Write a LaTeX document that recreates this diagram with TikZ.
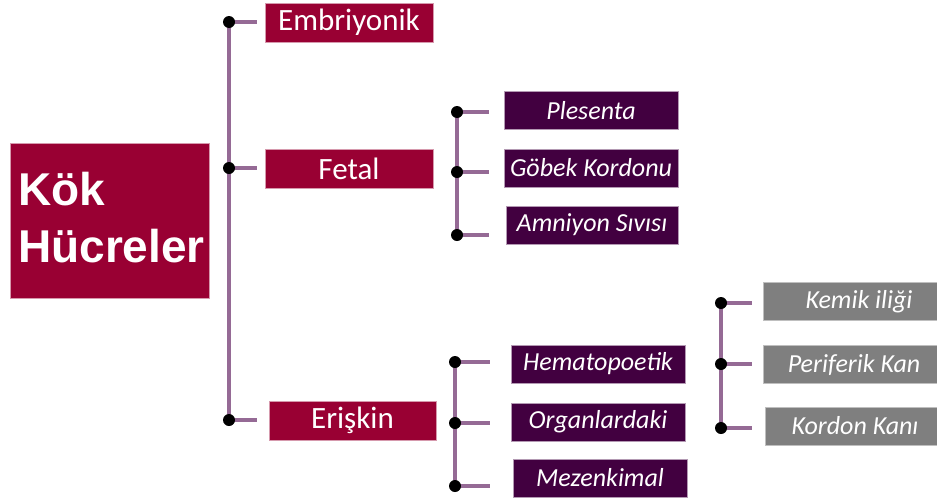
\documentclass[tikz,border=0pt]{standalone}
\usepackage{fontspec}
\setmainfont{Carlito}
\newfontfamily\arialbold{Liberation Sans}
\definecolor{rootred}{HTML}{990033}
\definecolor{leafpurple}{HTML}{420040}
\definecolor{leafgray}{HTML}{7F7F7F}
\definecolor{linepurple}{HTML}{956A95}
\tikzset{
  x=1pt, y=-1pt,
  redbox/.style={fill=rootred, draw=rootred!40, line width=0.8pt, text=white, minimum width=168pt, minimum height=39pt, inner sep=0pt, font=\fontsize{31}{33}\selectfont},
  purplebox/.style={fill=leafpurple, draw=leafpurple!40, line width=0.8pt, text=white, minimum width=174pt, minimum height=38pt, inner sep=0pt, font=\fontsize{26}{28}\selectfont\itshape},
  graybox/.style={fill=leafgray, draw=leafgray!50, line width=0.8pt, text=white, minimum width=174pt, minimum height=38pt, inner sep=0pt, font=\fontsize{26}{28}\selectfont\itshape},
  conn/.style={draw=linepurple, line width=3.2pt},
  dotpt/.style={circle, fill=black, inner sep=0pt, minimum size=12pt},
}
\begin{document}
\begin{tikzpicture}
\useasboundingbox (0,0) rectangle (937,501);
% root
\node[fill=rootred, draw=rootred!40, line width=0.8pt, minimum width=199pt, minimum height=155pt, inner sep=0pt] (root) at (109.5,220.5) {};
\node[anchor=base west, text=white, font=\arialbold\bfseries\fontsize{46}{57}\selectfont, inner sep=0pt] (kok) at (18,205) {Kök};
\node[anchor=base west, text=white, font=\arialbold\bfseries\fontsize{46}{57}\selectfont, inner sep=0pt] (huc) at (18,262) {Hücreler};
% level 1
\node[redbox] (emb) at (349,22.5) {Embriyonik};
\node[redbox] (fet) at (349,168.5) {Fetal};
\node[redbox, minimum width=167pt] (eri) at (352.5,420.5) {Erişkin};
% level 2 fetal
\node[purplebox] (ple) at (591,110.5) {Plesenta};
\node[purplebox] (gob) at (591,168) {Göbek Kordonu};
\node[purplebox, minimum width=172pt] (amn) at (592,225) {Amniyon Sıvısı};
% level 2 eriskin
\node[purplebox] (hem) at (598,364) {Hematopoetik};
\node[purplebox] (org) at (598,422) {Organlardaki};
\node[purplebox] (mez) at (600,478) {Mezenkimal};
% level 3
\node[graybox] (kem) at (850,301.5) {\hspace*{18pt}Kemik iliği};
\node[graybox] (per) at (850,364.5) {\hspace*{8pt}Periferik Kan};
\node[graybox, minimum width=172pt] (kor) at (851,426) {\hspace*{8pt}Kordon Kanı};
% dot coordinates
\coordinate (d1) at (229,22);
\coordinate (d2) at (229,168);
\coordinate (d3) at (229,420);
\coordinate (f1) at (457,112);
\coordinate (f2) at (457,172);
\coordinate (f3) at (457,235);
\coordinate (e1) at (455,362);
\coordinate (e2) at (455,423);
\coordinate (e3) at (455,486);
\coordinate (h1) at (721,303);
\coordinate (h2) at (721,364);
\coordinate (h3) at (721,428);
% connectors
\draw[conn] (d1) -- (d3);
\draw[conn, shorten >=8pt] (d1) -- (d1 -| emb.west);
\draw[conn, shorten >=8pt] (d2) -- (d2 -| fet.west);
\draw[conn, shorten >=12pt] (d3) -- (d3 -| eri.west);
\draw[conn] (f1) -- (f3);
\draw[conn, shorten >=15pt] (f1) -- (f1 -| ple.west);
\draw[conn, shorten >=15pt] (f2) -- (f2 -| gob.west);
\draw[conn, shorten >=17pt] (f3) -- (f3 -| amn.west);
\draw[conn] (e1) -- (e3);
\draw[conn, shorten >=21pt] (e1) -- (e1 -| hem.west);
\draw[conn, shorten >=21pt] (e2) -- (e2 -| org.west);
\draw[conn, shorten >=23pt] (e3) -- (e3 -| mez.west);
\draw[conn] (h1) -- (h3);
\draw[conn, shorten >=11pt] (h1) -- (h1 -| kem.west);
\draw[conn, shorten >=11pt] (h2) -- (h2 -| per.west);
\draw[conn, shorten >=13pt] (h3) -- (h3 -| kor.west);
% dots
\foreach \p in {d1,d2,d3,f1,f2,f3,e1,e2,e3,h1,h2,h3} \node[dotpt] at (\p) {};
\end{tikzpicture}
\end{document}
